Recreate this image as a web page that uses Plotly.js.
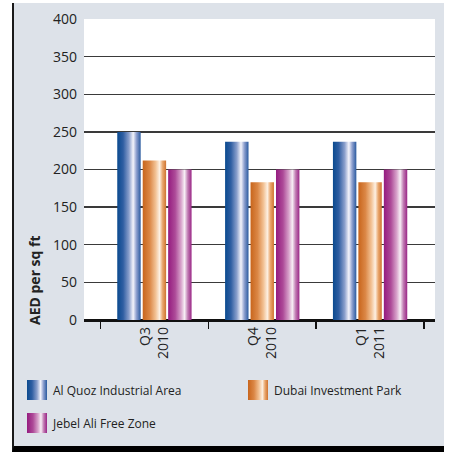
<!DOCTYPE html>
<html>
<head>
<meta charset="utf-8">
<script src="https://cdn.plot.ly/plotly-3.0.1.min.js"></script>
<style>
  html, body { margin: 0; padding: 0; background: #ffffff; width: 449px; height: 453px; overflow: hidden; }
  #frame { position: absolute; left: 12px; top: 3px; width: 430px; height: 443px;
           background: #dde2e9; border-left: 2px solid #1a1a1a; border-bottom: 6px solid #000; }
  #chart { position: absolute; left: 0; top: 0; width: 449px; height: 453px; }
</style>
</head>
<body>
<div id="frame"></div>
<div id="chart"></div>
<script>
// ---- data ----
const categories = ['Q3<br>2010', 'Q4<br>2010', 'Q1<br>2011'];
const seriesNames = ['Al Quoz Industrial Area', 'Dubai Investment Park', 'Jebel Ali Free Zone'];
const alQuoz = [250, 237, 237];
const dubaiInvestmentPark = [212, 183, 183];
const jebelAli = [200, 200, 200];
const yTickValues = [0, 50, 100, 150, 200, 250, 300, 350, 400];
const yTitle = 'AED per sq ft';

// ---- styles ----
const baseColors = ['#0c4b91', '#cc6a1f', '#991c82'];
const gradients = [
  [[0, '#0a4a8f'], [0.25, '#2f5ea2'], [0.5, '#8a9fcc'], [0.68, '#f4f4fb'], [0.82, '#8ea0cf'], [1, '#2a5a9f']],
  [[0, '#c8651c'], [0.3, '#db8746'], [0.55, '#f2c193'], [0.72, '#fdf0e2'], [0.85, '#e9a66c'], [1, '#cf7330']],
  [[0, '#951b7f'], [0.3, '#ad4a98'], [0.55, '#d8a3cb'], [0.7, '#f7eef5'], [0.84, '#c07ab2'], [1, '#9a2586']]
];
const seriesValues = [alQuoz, dubaiInvestmentPark, jebelAli];
const legendIds = ['legend', 'legend2', 'legend3'];

const traces = seriesValues.map((vals, i) => ({
  type: 'bar',
  name: seriesNames[i],
  x: categories,
  y: vals,
  marker: { color: baseColors[i], line: { width: 0 } },
  legend: legendIds[i],
  hoverinfo: 'none'
}));

const W = 449, H = 453;
const M = { l: 84, r: 14, t: 19, b: 133 };
const PW = W - M.l - M.r, PH = H - M.t - M.b;
const px = v => (v - M.l) / PW;
const py = v => (M.t + PH - v) / PH;

const FONT = '"Open Sans", "Noto Sans", sans-serif';

// legend placement (left edge of item, vertical centre), in pixels
const legendPos = [[13, 390], [234, 390], [13, 423]];
function legendCfg(p) {
  return {
    orientation: 'h', x: px(p[0]), y: py(p[1]), xanchor: 'left', yanchor: 'middle',
    font: { size: 12, color: '#222' }, bgcolor: 'rgba(0,0,0,0)', borderwidth: 0
  };
}

const layout = {
  width: W, height: H,
  margin: M,
  paper_bgcolor: 'rgba(0,0,0,0)',
  plot_bgcolor: '#ffffff',
  font: { family: FONT, color: '#222222', size: 14 },
  barmode: 'group',
  bargap: 0.292,
  bargroupgap: 0.08,
  showlegend: true,
  xaxis: {
    type: 'category',
    range: [-0.653, 2.602],
    tickson: 'boundaries',
    ticks: 'outside', ticklen: 7, tickwidth: 1.5, tickcolor: '#111',
    tickangle: -90,
    tickfont: { size: 14, color: '#222' },
    showline: true, linecolor: '#111', linewidth: 1.5,
    showgrid: false, zeroline: false,
    fixedrange: true
  },
  yaxis: {
    range: [0, 400],
    tickvals: yTickValues,
    ticks: '',
    ticklabelstandoff: 6,
    tickfont: { size: 14, color: '#222' },
    showgrid: true, gridcolor: '#3a3a3a', gridwidth: 1.4,
    zeroline: true, zerolinecolor: '#111', zerolinewidth: 1.5,
    showline: false,
    fixedrange: true
  },
  legend: legendCfg(legendPos[0]),
  legend2: legendCfg(legendPos[1]),
  legend3: legendCfg(legendPos[2]),
  annotations: [{
    text: '<b>' + yTitle + '</b>',
    xref: 'paper', yref: 'paper',
    x: px(34), y: py(327),
    xanchor: 'center', yanchor: 'bottom',
    textangle: -90, showarrow: false,
    font: { size: 14, color: '#222' }
  }]
};

function applyGradients(gd) {
  const svg = gd.querySelector('svg.main-svg');
  const NS = 'http://www.w3.org/2000/svg';
  let defs = svg.querySelector('defs');
  if (!defs) { defs = document.createElementNS(NS, 'defs'); svg.insertBefore(defs, svg.firstChild); }
  gradients.forEach((stops, i) => {
    const lg = document.createElementNS(NS, 'linearGradient');
    lg.setAttribute('id', 'barGrad' + i);
    lg.setAttribute('x1', '0'); lg.setAttribute('x2', '1');
    lg.setAttribute('y1', '0'); lg.setAttribute('y2', '0');
    stops.forEach(([o, c]) => {
      const s = document.createElementNS(NS, 'stop');
      s.setAttribute('offset', o);
      s.setAttribute('stop-color', c);
      lg.appendChild(s);
    });
    defs.appendChild(lg);
  });
  gd.querySelectorAll('.barlayer .trace').forEach((tr, i) => {
    let idx = i;
    try { idx = tr.__data__[0].trace.index; } catch (e) {}
    tr.querySelectorAll('path').forEach(p => { p.style.fill = 'url(#barGrad' + idx + ')'; });
  });
  gd.querySelectorAll('g.traces').forEach((tr, i) => {
    let idx = i;
    try { idx = tr.__data__[0][0].trace.index; } catch (e) {}
    tr.querySelectorAll('.legendpoints path').forEach(p => {
      p.setAttribute('d', 'M14,10H-6V-10H14Z');
      p.style.fill = 'url(#barGrad' + idx + ')';
      p.style.stroke = 'none';
    });
  });
}

Plotly.newPlot('chart', traces, layout, { staticPlot: true, displayModeBar: false })
  .then(gd => applyGradients(gd));
</script>
</body>
</html>
